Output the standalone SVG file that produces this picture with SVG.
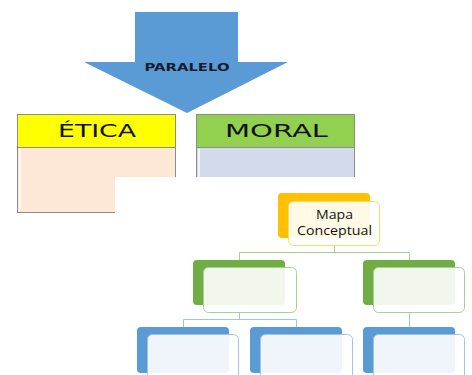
<svg xmlns="http://www.w3.org/2000/svg" width="472" height="375" viewBox="0 0 472 375">
<style>
.tbox{stroke:#8c8c8c;stroke-width:1}
.hl{fill:#ffffff;opacity:0.7}
.big{font-family:"DejaVu Sans","Liberation Sans",sans-serif;font-size:18px;fill:#111;text-anchor:middle}
.small{font-family:"Open Sans","Liberation Sans",sans-serif;font-size:12px;fill:#111;text-anchor:middle}
.front{fill:#ffffff;fill-opacity:0.9}
.g-back{fill:#70AD47}
.b-back{fill:#5B9BD5}
.o-back{fill:#FFC000}
.g-front{stroke:#A9D18E;stroke-width:1}
.b-front{stroke:#9DC3E6;stroke-width:1}
.o-front{stroke:#FFD966;stroke-width:1}
.c-green{fill:none;stroke:#A9D18E;stroke-width:1}
.c-blue{fill:none;stroke:#9DC3E6;stroke-width:1}
</style>
<rect width="472" height="375" fill="#ffffff"/>
<g id="arrow">
<polygon points="135,12 238,12 238,62 288,62 187,113 84,62 135,62" fill="#5B9BD5"/>
<text x="187" y="71" font-family="DejaVu Sans,Liberation Sans,sans-serif" font-weight="bold" font-size="10" fill="#1a1a2e" text-anchor="middle" textLength="85" lengthAdjust="spacingAndGlyphs">PARALELO</text>
</g>
<g id="etica">
<rect x="17.5" y="114.5" width="158" height="33" fill="#FFFF00" class="tbox"/>
<rect x="17.5" y="147.5" width="158" height="65" fill="#FCE8D4" class="tbox"/>
<rect x="19" y="149" width="2" height="62" class="hl"/>
<text x="97" y="137" class="big" textLength="78" lengthAdjust="spacingAndGlyphs">ÉTICA</text>
</g>
<g id="moral">
<rect x="196.5" y="114.5" width="158" height="33" fill="#92D050" class="tbox"/>
<rect x="196.5" y="147.5" width="158" height="65" fill="#D3DAEA" class="tbox"/>
<rect x="198" y="149" width="2" height="62" class="hl"/>
<text x="276.5" y="137" class="big" textLength="103" lengthAdjust="spacingAndGlyphs">MORAL</text>
</g>
<rect id="cover" x="115" y="177" width="357" height="198" fill="#ffffff"/>
<g id="connectors">
<path class="c-green" d="M334.5,246 V252.5 M239.5,252.5 H409.5 M239.5,252.5 V260 M409.5,252.5 V260"/>
<path class="c-blue" d="M239.5,313 V319.5 M183.5,319.5 H296.5 M183.5,319.5 V327 M296.5,319.5 V327 M409.5,313 V327"/>
</g>
<g id="mapa">
<rect x="278" y="193" width="92" height="45" rx="4" class="o-back"/>
<rect x="288.5" y="201.5" width="91" height="44" rx="5" class="front o-front"/>
<text x="334.5" y="219" class="small" textLength="37" lengthAdjust="spacingAndGlyphs">Mapa</text>
<text x="334.5" y="234.5" class="small" textLength="75" lengthAdjust="spacingAndGlyphs">Conceptual</text>
</g>
<g id="green-left">
<rect x="193" y="260" width="92" height="45" rx="4" class="g-back"/>
<rect x="203.5" y="267.5" width="93" height="45" rx="5" class="front g-front"/>
</g>
<g id="green-right">
<rect x="363" y="260" width="92" height="45" rx="4" class="g-back"/>
<rect x="373.5" y="267.5" width="91" height="45" rx="5" class="front g-front"/>
</g>
<g id="blue-left">
<rect x="137" y="327" width="92" height="46" rx="4" class="b-back"/>
<rect x="147.5" y="334.5" width="91" height="50" rx="5" class="front b-front"/>
</g>
<g id="blue-middle">
<rect x="250" y="327" width="92" height="46" rx="4" class="b-back"/>
<rect x="260.5" y="334.5" width="92" height="50" rx="5" class="front b-front"/>
</g>
<g id="blue-right">
<rect x="363" y="327" width="92" height="46" rx="4" class="b-back"/>
<rect x="373.5" y="334.5" width="91" height="50" rx="5" class="front b-front"/>
</g>
</svg>
